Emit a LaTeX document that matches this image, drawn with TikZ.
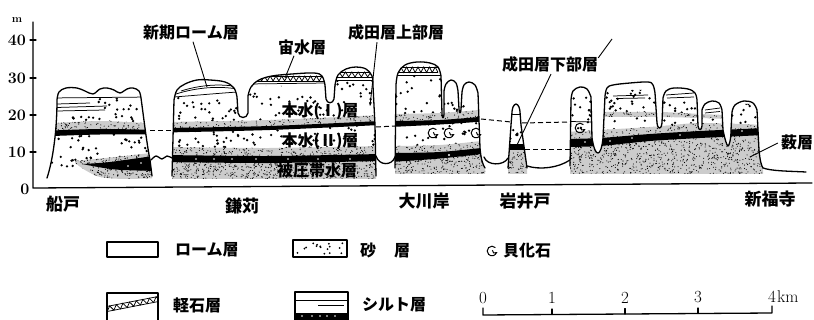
\documentclass[tikz,border=0pt]{standalone}
\usepackage{fontspec}
\newfontfamily\jp{Noto Sans CJK JP}
\usetikzlibrary{arrows.meta}
% random dots in a box: xmin xmax ymin ymax count radius
\newcommand\rdots[6]{\foreach \k in {1,...,#5}{\pgfmathsetmacro\dotx{#1+rnd*(#2-#1)}\pgfmathsetmacro\doty{#3+rnd*(#4-#3)}\fill (\dotx,\doty) circle[radius=#6];}}
% stippled (gravelly sand) band: path, bounding box, dot count
\newcommand\stipband[6]{\begin{scope}\clip #1;\fill[black!20] (#2,#4) rectangle (#3,#5);\rdots{#2}{#3}{#4}{#5}{#6}{0.55pt}\end{scope}}
% row of pumice lumps between two lines
\newcommand\pumicerow[5]{\draw[thinl] (#1,#3) -- (#2,#3) (#1,#4) -- (#2,#4);
 \pgfmathsetmacro\pw{(#2-#1)/#5}
 \draw[thinl] (#1,#4) \foreach \i in {1,...,#5}{ -- ({#1+(\i-0.5)*\pw},#3) -- ({#1+\i*\pw},#4)};}
\begin{document}
\begin{tikzpicture}[x=1pt,y=-1pt,
  outl/.style={line width=1.3pt,line join=round,line cap=round},
  thinl/.style={line width=0.75pt},
  dashl/.style={line width=1pt,dash pattern=on 5pt off 3pt},
  lead/.style={line width=0.9pt},
  jlab/.style={font=\jp\bfseries\fontsize{16}{18}\selectfont,inner sep=0pt},
  blab/.style={font=\jp\bfseries\fontsize{17}{19}\selectfont,inner sep=0pt},
  num/.style={font=\bfseries\fontsize{16}{18}\selectfont,inner sep=0pt},
  snum/.style={font=\fontsize{17}{19}\selectfont,inner sep=0pt},
  shell/.pic={\begin{scope}[yscale=-1]\draw[line width=1pt] (45:4.8) arc[start angle=45,end angle=340,radius=4.8] .. controls (2.4,-2.8) and (0.2,-2) .. (0.4,0.8);\end{scope}}
]
\useasboundingbox (0,0) rectangle (814,320);
\pgfmathsetseed{2718}

% ---------- axis ----------
\draw[outl] (33,22) -- (33,188) -- (812,183);
\foreach \yy in {40,78,115,152}{\draw[outl] (30,\yy) -- (36,\yy);}
\node[num] (t40) at (17,40) {40};
\node[num] (t30) at (17,78) {30};
\node[num] (t20) at (17,115) {20};
\node[num] (t10) at (17,152) {10};
\node[num] (t0) at (25,189) {0};
\node[font=\bfseries\fontsize{11}{12}\selectfont,inner sep=0pt] (unit) at (17,20) {m};

% ---------- dashed correlation lines ----------
\draw[dashl] (150,131) -- (172,131);
\draw[dashl] (376,127) -- (395,126);
\draw[dashl] (481,119) -- (511,122);
\draw[dashl] (522,123) -- (570,122);
\draw[dashl] (525,150) -- (570,150);

% ---------- ground surface between hills ----------
\draw[outl] plot[smooth] coordinates {(151,160) (156,156) (162,159) (167,156) (172,158)};
\draw[outl] (376,156) .. controls (379,166) and (392,166) .. (395,157);
\draw[outl] (484,157) .. controls (487,166) and (504,166) .. (508,158);
\draw[outl] (527,166) .. controls (540,170) and (558,168) .. (570,160);
\draw[outl] (763,168) .. controls (772,171) and (785,171) .. (806,172);

% ---------- 船戸 ----------
\def\pathA{(47,178) .. controls (53,160) and (57,130) .. (57,100) -- plot[smooth,tension=0.6] coordinates {(57,100) (59,92) (66,88) (77,88) (85,91) (93,94) (100,89) (107,88) (114,90) (120,93) (127,89) (133,88) (139,91) (141,98)} .. controls (144,120) and (147,145) .. (150,160) -- (152,176)}
\begin{scope}
 \clip \pathA -- (152,181) -- (45,181) -- cycle;
 \begin{scope}
  \clip (40,113) -- (95,113) -- (95,98) -- (160,98) -- (160,170) -- (40,170) -- cycle;
  \rdots{40}{160}{98}{170}{130}{1.3pt}
 \end{scope}
 \stipband{plot[smooth] coordinates {(40,124) (100,121) (160,124)} -- plot[smooth] coordinates {(160,131) (100,130) (40,132)} -- cycle}{40}{160}{118}{134}{200}
 \stipband{plot[smooth] coordinates {(75,161) (115,157) (160,152)} -- (160,180) -- plot[smooth] coordinates {(160,178) (125,179) (100,177) (85,170) (75,163)} -- cycle}{70}{160}{150}{181}{380}
 \fill plot[smooth] coordinates {(40,131) (100,129) (160,130)} -- plot[smooth] coordinates {(160,134.5) (100,134.5) (40,136.5)} -- cycle;
 \fill plot[smooth] coordinates {(82,164) (110,162) (160,155)} -- plot[smooth] coordinates {(160,171) (115,169.5) (82,164)} -- cycle;
 \fill[white] (128,166) circle[radius=0.9pt] (141,163) circle[radius=0.9pt];
 \draw[thinl] (50,98) -- (150,97);
 \draw[thinl] (57,104) -- (90,103);
 \draw[thinl] (57,107.5) -- (107,106);
 \draw[thinl] (57,111) -- (105,110);
\end{scope}
\draw[outl] \pathA;

% ---------- 鎌苅 ----------
\def\pathB{(172,176) -- (174,100) -- plot[smooth,tension=0.6] coordinates {(174,100) (177,90) (185,84) (197,80) (210,80) (225,82) (234,88) (237,97)} -- (238,113) .. controls (239,119) and (247,119) .. (248,113) -- (248,96) -- plot[smooth,tension=0.6] coordinates {(248,96) (251,87) (259,80) (272,76) (292,74) (314,73) (322,76) (325,85)} -- (326,99) .. controls (327,104) and (333,104) .. (334,99) -- (335,85) -- plot[smooth,tension=0.6] coordinates {(335,85) (338,75) (346,69) (356,67) (366,69) (372,76) (373,86)} -- (375,125) -- (376,176)}
\begin{scope}
 \clip \pathB -- (376,179) -- (172,179) -- cycle;
 \begin{scope}
  \clip (165,97) -- (240,97) -- (240,86) -- (330,86) -- (330,81) -- (380,81) -- (380,165) -- (165,165) -- cycle;
  \rdots{165}{380}{81}{165}{260}{1.3pt}
 \end{scope}
 \draw[thinl] (174,97) .. controls (200,95) and (222,93) .. (238,92);
 \draw[thinl] (176,94) .. controls (198,87) and (220,86) .. (237,89);
 \draw[thinl] (181,91) .. controls (200,85) and (218,84) .. (233,86);
 \pumicerow{250}{325}{76}{81}{13}
 \draw[thinl] (248,84) -- (326,83);
 \pumicerow{336}{374}{72}{77}{6}
 \draw[thinl] (335,80) -- (374,80);
 \stipband{plot[smooth] coordinates {(165,122) (270,120) (380,115)} -- plot[smooth] coordinates {(380,123) (270,128) (165,130)} -- cycle}{165}{380}{113}{131}{300}
 \stipband{plot[smooth] coordinates {(165,147) (270,148) (380,146)} -- plot[smooth] coordinates {(380,156) (270,157) (165,156)} -- cycle}{165}{380}{144}{158}{340}
 \stipband{plot[smooth] coordinates {(165,160) (270,161) (380,159)} -- (380,182) -- (165,182) -- cycle}{165}{380}{158}{180}{640}
 \fill plot[smooth] coordinates {(165,128) (270,126) (380,121)} -- plot[smooth] coordinates {(380,125) (270,130) (165,132.5)} -- cycle;
 \fill plot[smooth] coordinates {(165,155) (270,156) (380,154)} -- plot[smooth] coordinates {(380,161) (270,163) (165,162)} -- cycle;
 \foreach \wx in {196,214,232,256,288,318,350}{\fill[white] (\wx,159) circle[radius=0.9pt];}
\end{scope}
\draw[outl] \pathB;

% ---------- 大川岸 ----------
\def\pathC{(395,168) -- (396,85) -- plot[smooth,tension=0.6] coordinates {(396,85) (398,73) (405,65) (417,62) (430,63) (438,67) (441,76)} -- (442,114) .. controls (442,119) and (444,119) .. (444,114) -- (444,91) -- plot[smooth,tension=0.6] coordinates {(444,91) (446,84) (451,80) (456,83) (458,91)} -- (459,109) .. controls (459,114) and (461,114) .. (461,109) -- (462,92) -- plot[smooth,tension=0.6] coordinates {(462,92) (464,85) (469,82) (475,85) (478,93)} -- (480,148) .. controls (481,160) and (483,165) .. (485,168)}
\begin{scope}
 \clip \pathC -- (485,174) -- (395,174) -- cycle;
 \begin{scope}
  \clip (390,75) -- (443,75) -- (443,100) -- (490,100) -- (490,160) -- (390,160) -- cycle;
  \rdots{390}{490}{75}{160}{95}{1.3pt}
 \end{scope}
 \pumicerow{398}{438}{67}{72.5}{7}
 \draw[thinl] (397,75) -- (441,75);
 \stipband{plot[smooth] coordinates {(390,114) (440,113) (490,109)} -- plot[smooth] coordinates {(490,118) (440,121) (390,122)} -- cycle}{390}{490}{107}{123}{140}
 \stipband{plot[smooth] coordinates {(390,146) (440,145) (490,140)} -- plot[smooth] coordinates {(490,148) (440,153) (390,154)} -- cycle}{390}{490}{138}{155}{150}
 \stipband{plot[smooth] coordinates {(390,161) (440,158) (490,152)} -- (490,176) -- (390,176) -- cycle}{390}{490}{150}{176}{340}
 \fill plot[smooth] coordinates {(390,121) (440,120) (490,116)} -- plot[smooth] coordinates {(490,121) (440,124.5) (390,127)} -- cycle;
 \fill plot[smooth] coordinates {(390,153) (440,152) (490,147)} -- plot[smooth] coordinates {(490,153) (440,158.5) (390,162)} -- cycle;
 \fill[white] (449,155) circle[radius=1.1pt];
\end{scope}
\draw[outl] \pathC;
\pic (s1) at (433,133) {shell};
\pic (s2) at (449,133) {shell};
\pic (s3) at (476,133) {shell};

% ---------- 岩井戸 ----------
\def\pathD{(508,168) -- (511,125) -- (512,112) -- plot[smooth,tension=0.7] coordinates {(512,112) (513,107) (516,104) (519,107) (520,112)} -- (521,125) -- (527,168)}
\begin{scope}
 \clip \pathD -- (527,174) -- (508,174) -- cycle;
 \rdots{508}{527}{116}{143}{9}{1.3pt}
 \draw[thinl] (510,114.5) -- (522,114.5);
 \stipband{(505,150) rectangle (530,174)}{505}{530}{150}{174}{80}
 \fill (505,144) rectangle (530,150);
\end{scope}
\draw[outl] \pathD;

% ---------- 新福寺 side ----------
\def\pathE{(570,166) -- (571,100) -- plot[smooth,tension=0.6] coordinates {(571,100) (573,91) (580,87) (587,89) (591,97)} -- (592,138) .. controls (594,150) and (596,153) .. (598,153) .. controls (600,153) and (602,148) .. (603,138) -- (605,96) -- plot[smooth,tension=0.6] coordinates {(605,96) (607,88) (613,85) (630,83) (648,82) (653,85) (655,93)} -- (657,123) .. controls (658,130) and (661,130) .. (662,123) -- (663,98) -- plot[smooth,tension=0.6] coordinates {(663,98) (666,91) (674,88) (688,89) (695,93) (697,100)} -- (698,126) .. controls (699,131) and (701,131) .. (702,126) -- (702,110) -- plot[smooth,tension=0.6] coordinates {(702,110) (705,104) (712,101) (719,103) (722,110)} -- (723,130) .. controls (725,140) and (727,146) .. (728,146) .. controls (729,146) and (731,140) .. (731,130) -- (732,112) -- plot[smooth,tension=0.6] coordinates {(732,112) (735,105) (744,101) (753,103) (757,110)} -- (759,150) .. controls (760,160) and (761,165) .. (763,168)}
\begin{scope}
 \clip \pathE -- (763,174) -- (570,174) -- cycle;
 \begin{scope}
  \clip (565,96) -- (600,96) -- (600,90) -- (660,90) -- (660,100) -- (700,100) -- (700,114) -- (730,114) -- (730,104) -- (765,104) -- (765,145) -- (565,145) -- cycle;
  \rdots{565}{765}{88}{145}{170}{1.3pt}
 \end{scope}
 \draw[thinl] (613,96) -- (648,95);
 \draw[thinl] (616,98.5) -- (645,98);
 \draw[thinl] (666,95) -- (694,93);
 \draw[thinl] (667,98) -- (694,97);
 \draw[thinl] (705,110) -- (720,108);
 \draw[thinl] (705,113) -- (720,111.5);
 \draw[thinl] (570,121.5) -- (592,122);
 \stipband{plot[smooth] coordinates {(600,112) (660,112) (700,114) (726,115)} -- plot[smooth] coordinates {(726,119) (700,118) (660,117) (600,117)} -- cycle}{600}{726}{110}{120}{140}
 \stipband{plot[smooth] coordinates {(565,132) (650,127) (700,123) (765,125)} -- plot[smooth] coordinates {(765,130) (700,133) (650,136) (565,141)} -- cycle}{565}{765}{121}{142}{320}
 \stipband{plot[smooth] coordinates {(565,146) (600,145) (650,140) (700,137) (765,134)} -- (765,176) -- (565,176) -- cycle}{565}{765}{132}{176}{940}
 \fill plot[smooth] coordinates {(565,139) (600,138) (650,134) (700,131) (765,128)} -- plot[smooth] coordinates {(765,135) (700,138) (650,141) (600,146) (565,147)} -- cycle;
 \foreach \wx/\wy in {585/142,610/141,632/138,680/135,742/131}{\fill[white] (\wx,\wy) circle[radius=0.9pt];}
\end{scope}
\draw[outl] \pathE;
\pic (s4) at (580,128) {shell};

% ---------- labels and leaders ----------
\node[jlab] (shinki) at (191,33) {新期ローム層};
\node[jlab] (chusui) at (302,47) {宙水層};
\node[jlab] (jobu) at (396,32) {成田層上部層};
\node[jlab] (kabu) at (550,64) {成田層下部層};
\node[jlab] (hon1) at (320,111) {本水(Ⅰ)層};
\node[jlab] (hon2) at (320,141) {本水(Ⅱ)層};
\node[jlab] (hiatsu) at (317,170) {被圧帯水層};
\node[jlab] (yabu) at (797,142) {薮層};
\coordinate (shinkiE) at (207,87);
\coordinate (chusuiE) at (285,78);
\coordinate (jobuE) at (370,106);
\coordinate (kabuE) at (516,147);
\coordinate (kabuT) at (612,39);
\coordinate (yabuE) at (750,157);
\draw[lead] (shinki.south) ++(2,1) -- (shinkiE);
\draw[lead] (chusui.south) ++(-8,1) -- (chusuiE);
\draw[lead,-{Stealth[length=4pt,width=3pt]}] (jobu.south) ++(-19,2) -- (jobuE);
\draw[lead] (kabu.south) ++(1,2) -- (kabuE);
\draw[lead] (kabu.north east) ++(0,2) -- (kabuT);
\draw[lead] (yabu.west) ++(-3,1) -- (yabuE);

\node[blab] (funato) at (63,204) {船戸};
\node[blab] (kamagari) at (242,206) {鎌苅};
\node[blab] (okawagishi) at (424,201) {大川岸};
\node[blab] (iwaido) at (525,201) {岩井戸};
\node[blab] (shinpukuji) at (770,199) {新福寺};

% ---------- legend ----------
\draw[outl] (107,242) rectangle (158,257);
\node[jlab,anchor=west] (lgloam) at (175,250) {ローム層};
\draw[outl] (293,240) rectangle (347,257);
\rdots{296}{344}{243}{254}{16}{1pt}
\node[jlab,anchor=west] (lgsand) at (360,250) {砂\hspace{18pt}層};
\pic (lgshell) at (492,251) {shell};
\node[jlab,anchor=west] (lgfossil) at (503,251) {貝化石};
\draw[outl] (107,320) -- (107,293) -- (158,293) -- (158,320);
\begin{scope}
 \clip (107,293) rectangle (158,320);
 \begin{scope}[shift={(107,310)},rotate=11]
  \pumicerow{0}{54}{-3.5}{1.5}{8}
 \end{scope}
\end{scope}
\node[jlab,anchor=west] (lgpumice) at (173,305) {軽石層};
\draw[outl] (295,320) -- (295,292) -- (348,292) -- (348,320);
\draw[thinl] (296,300) -- (347,300);
\draw[thinl] (318,305) -- (344,305);
\fill (296,313) rectangle (347,320);
\foreach \wx in {302,312,320,327,335}{\fill[white] (\wx,316) circle[radius=0.8pt];}
\node[jlab,anchor=west] (lgsilt) at (362,305) {シルト層};

% ---------- scale bar ----------
\draw[outl] (483,308) -- (483,315) -- (772,313) -- (772,306);
\draw[outl] (552,309) -- (552,314.5);
\draw[outl] (625,308.5) -- (625,314);
\draw[outl] (698,308) -- (698,313.5);
\node[snum] (k0) at (483,298) {0};
\node[snum] (k1) at (552,298) {1};
\node[snum] (k2) at (625,297.5) {2};
\node[snum] (k3) at (698,297) {3};
\node[snum] (k4) at (772,296.5) {4};
\node[snum,anchor=west] (km) at (777,297) {km};
\end{tikzpicture}
\end{document}
